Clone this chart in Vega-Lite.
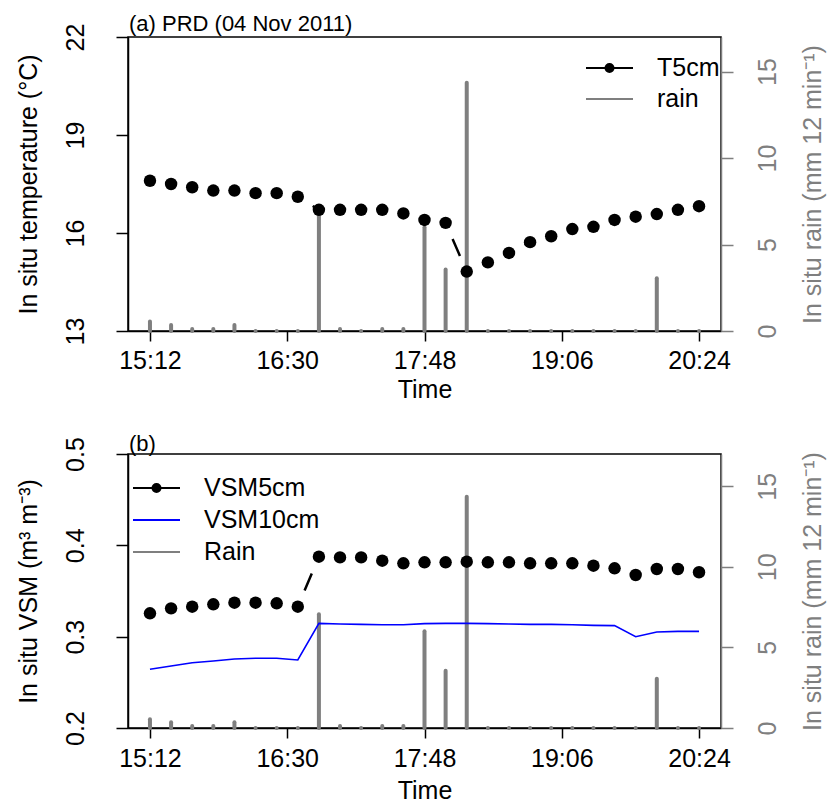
{
  "$schema": "https://vega.github.io/schema/vega-lite/v6.json",
  "autosize": {"type": "pad"},
  "padding": {"left": 15, "top": 12, "right": 2, "bottom": 2},
  "config": {
    "font": "Liberation Sans",
    "view": {"stroke": "black", "strokeWidth": 1.5},
    "axis": {"grid": false, "labelFontSize": 25, "titleFontSize": 25, "titleFontWeight": "normal", "labelColor": "black", "titleColor": "black", "domainColor": "black", "tickColor": "black", "domainWidth": 1.5, "tickWidth": 1.5, "labelFont": "Liberation Sans", "titleFont": "Liberation Sans"},
    "legend": {"labelFont": "Liberation Sans"}
  },
  "data": {
    "format": {"parse": {"time": "date"}},
    "values": [
      {"time": "2011-11-04T15:12", "T": 17.60, "rain": 0.55, "vsm5": 0.3256, "vsm10": 0.2643},
      {"time": "2011-11-04T15:24", "T": 17.50, "rain": 0.35, "vsm5": 0.3310, "vsm10": 0.2679},
      {"time": "2011-11-04T15:36", "T": 17.40, "rain": 0.12, "vsm5": 0.3328, "vsm10": 0.2715},
      {"time": "2011-11-04T15:48", "T": 17.30, "rain": 0.12, "vsm5": 0.3354, "vsm10": 0.2734},
      {"time": "2011-11-04T16:00", "T": 17.30, "rain": 0.35, "vsm5": 0.3372, "vsm10": 0.2755},
      {"time": "2011-11-04T16:12", "T": 17.22, "rain": 0, "vsm5": 0.3372, "vsm10": 0.2763},
      {"time": "2011-11-04T16:24", "T": 17.22, "rain": 0, "vsm5": 0.3365, "vsm10": 0.2763},
      {"time": "2011-11-04T16:36", "T": 17.11, "rain": 0, "vsm5": 0.3328, "vsm10": 0.2745},
      {"time": "2011-11-04T16:48", "T": 16.71, "rain": 7.05, "vsm5": 0.3876, "vsm10": 0.3146},
      {"time": "2011-11-04T17:00", "T": 16.71, "rain": 0.12, "vsm5": 0.3868, "vsm10": 0.3139},
      {"time": "2011-11-04T17:12", "T": 16.71, "rain": 0, "vsm5": 0.3868, "vsm10": 0.3135},
      {"time": "2011-11-04T17:24", "T": 16.71, "rain": 0.12, "vsm5": 0.3832, "vsm10": 0.3131},
      {"time": "2011-11-04T17:36", "T": 16.60, "rain": 0.12, "vsm5": 0.3803, "vsm10": 0.3131},
      {"time": "2011-11-04T17:48", "T": 16.40, "rain": 6.0, "vsm5": 0.3814, "vsm10": 0.3143},
      {"time": "2011-11-04T18:00", "T": 16.31, "rain": 3.55, "vsm5": 0.3814, "vsm10": 0.3146},
      {"time": "2011-11-04T18:12", "T": 14.82, "rain": 14.35, "vsm5": 0.3821, "vsm10": 0.3146},
      {"time": "2011-11-04T18:24", "T": 15.10, "rain": 0, "vsm5": 0.3814, "vsm10": 0.3143},
      {"time": "2011-11-04T18:36", "T": 15.39, "rain": 0, "vsm5": 0.3814, "vsm10": 0.3139},
      {"time": "2011-11-04T18:48", "T": 15.72, "rain": 0, "vsm5": 0.3803, "vsm10": 0.3135},
      {"time": "2011-11-04T19:00", "T": 15.90, "rain": 0, "vsm5": 0.3803, "vsm10": 0.3135},
      {"time": "2011-11-04T19:12", "T": 16.12, "rain": 0, "vsm5": 0.3803, "vsm10": 0.3131},
      {"time": "2011-11-04T19:24", "T": 16.19, "rain": 0, "vsm5": 0.3777, "vsm10": 0.3124},
      {"time": "2011-11-04T19:36", "T": 16.40, "rain": 0, "vsm5": 0.3748, "vsm10": 0.3121},
      {"time": "2011-11-04T19:48", "T": 16.50, "rain": 0, "vsm5": 0.3675, "vsm10": 0.3000},
      {"time": "2011-11-04T20:00", "T": 16.58, "rain": 3.05, "vsm5": 0.3741, "vsm10": 0.3051},
      {"time": "2011-11-04T20:12", "T": 16.71, "rain": 0, "vsm5": 0.3741, "vsm10": 0.3058},
      {"time": "2011-11-04T20:24", "T": 16.82, "rain": 0, "vsm5": 0.3705, "vsm10": 0.3058}
    ]
  },
  "bounds": "flush",
  "spacing": 123,
  "resolve": {"scale": {"color": "independent", "stroke": "independent", "shape": "independent"}, "legend": {"color": "independent", "stroke": "independent", "shape": "independent"}},
  "vconcat": [
    {
      "width": 593,
      "height": 294,
      "title": {"text": "(a) PRD (04 Nov 2011)", "anchor": "start", "frame": "group", "fontSize": 22, "fontWeight": "normal", "color": "black", "offset": -30, "baseline": "alphabetic", "dx": 1},
      "resolve": {"scale": {"y": "independent"}},
      "layer": [
        {
          "mark": {"type": "rule", "color": "#7f7f7f", "strokeWidth": 4, "strokeCap": "round"},
          "encoding": {
            "x": {"field": "time", "type": "temporal",
              "scale": {"domain": [{"year": 2011, "month": 11, "date": 4, "hours": 14, "minutes": 59, "seconds": 31}, {"year": 2011, "month": 11, "date": 4, "hours": 20, "minutes": 36, "seconds": 29}]},
              "axis": {"values": [{"year": 2011, "month": 11, "date": 4, "hours": 15, "minutes": 12}, {"year": 2011, "month": 11, "date": 4, "hours": 16, "minutes": 30}, {"year": 2011, "month": 11, "date": 4, "hours": 17, "minutes": 48}, {"year": 2011, "month": 11, "date": 4, "hours": 19, "minutes": 6}, {"year": 2011, "month": 11, "date": 4, "hours": 20, "minutes": 24}],
                "format": "%H:%M", "title": "Time", "tickSize": 10, "labelPadding": 7, "titlePadding": 4, "labelAngle": 0, "labelFlush": false, "labelOverlap": false}},
            "y": {"field": "rain", "type": "quantitative", "scale": {"domain": [0, 17], "nice": false, "zero": false},
              "axis": {"orient": "right", "values": [0, 5, 10, 15], "title": "In situ rain (mm 12 min⁻¹)", "labelAngle": 270, "labelAlign": "center", "labelBaseline": "top", "tickSize": 12, "labelPadding": 22, "titleAngle": 270, "titleBaseline": "top", "titlePadding": 20, "domainColor": "#7f7f7f", "tickColor": "#7f7f7f", "labelColor": "#7f7f7f", "titleColor": "#7f7f7f"}},
            "y2": {"datum": 0}
          }
        },
        {
          "transform": [
            {"window": [{"op": "lead", "field": "time", "as": "time2"}, {"op": "lead", "field": "T", "as": "T2"}], "sort": [{"field": "time"}]},
            {"filter": "datum.time2 != null"}
          ],
          "mark": {"type": "rule", "color": "black", "strokeWidth": 2.5, "strokeDash": [0, 17.5, 18.5, 1000]},
          "encoding": {
            "x": {"field": "time", "type": "temporal"},
            "x2": {"field": "time2"},
            "y": {"field": "T", "type": "quantitative", "scale": {"domain": [13, 22], "nice": false, "zero": false}, "axis": null},
            "y2": {"field": "T2"}
          }
        },
        {
          "mark": {"type": "point", "filled": true, "size": 155, "opacity": 1, "color": "black"},
          "encoding": {
            "x": {"field": "time", "type": "temporal"},
            "y": {"field": "T", "type": "quantitative", "scale": {"domain": [13, 22], "nice": false, "zero": false},
              "axis": {"orient": "left", "values": [13, 16, 19, 22], "title": "In situ temperature (°C)", "labelAngle": 270, "labelAlign": "center", "labelBaseline": "bottom", "tickSize": 12, "labelPadding": 28, "titlePadding": 22}}
          }
        },
        {
          "mark": {"type": "point", "filled": true, "opacity": 0, "strokeWidth": 2, "size": 100},
          "encoding": {
            "x": {"field": "time", "type": "temporal"},
            "y": {"field": "T", "type": "quantitative", "scale": {"domain": [13, 22], "nice": false, "zero": false}, "axis": null},
            "color": {"datum": "T5cm", "type": "nominal",
              "scale": {"domain": ["T5cm", "rain"], "range": ["black", "#7f7f7f"]},
              "legend": {"orient": "none", "legendX": 457, "legendY": 16, "title": null, "padding": 0, "symbolSize": 2209, "symbolOpacity": 1, "symbolStrokeWidth": 2, "clipHeight": 30, "rowPadding": 1, "labelFontSize": 25, "labelOffset": 23, "labelColor": "black", "symbolOffset": 0}},
            "stroke": {"datum": "T5cm", "type": "nominal",
              "scale": {"domain": ["T5cm", "rain"], "range": ["black", "#7f7f7f"]},
              "legend": {"orient": "none", "legendX": 457, "legendY": 16, "title": null, "padding": 0, "symbolSize": 2209, "symbolOpacity": 1, "symbolStrokeWidth": 2, "clipHeight": 30, "rowPadding": 1, "labelFontSize": 25, "labelOffset": 23, "labelColor": "black", "symbolOffset": 0}},
            "shape": {"datum": "T5cm", "type": "nominal",
              "scale": {"domain": ["T5cm", "rain"], "range": ["M-1,0H1M0.17,0A0.17,0.17,0,1,1,-0.17,0A0.17,0.17,0,1,1,0.17,0Z", "M-1,0H1"]},
              "legend": {"orient": "none", "legendX": 457, "legendY": 16, "title": null, "padding": 0, "symbolSize": 2209, "symbolOpacity": 1, "symbolStrokeWidth": 2, "clipHeight": 30, "rowPadding": 1, "labelFontSize": 25, "labelOffset": 23, "labelColor": "black", "symbolOffset": 0}}
          }
        }
      ]
    },
    {
      "width": 593,
      "height": 274,
      "title": {"text": "(b)", "anchor": "start", "frame": "group", "fontSize": 22, "fontWeight": "normal", "color": "black", "offset": -36, "baseline": "alphabetic", "dx": 1},
      "resolve": {"scale": {"y": "independent"}},
      "layer": [
        {
          "mark": {"type": "rule", "color": "#7f7f7f", "strokeWidth": 4, "strokeCap": "round"},
          "encoding": {
            "x": {"field": "time", "type": "temporal",
              "scale": {"domain": [{"year": 2011, "month": 11, "date": 4, "hours": 14, "minutes": 59, "seconds": 31}, {"year": 2011, "month": 11, "date": 4, "hours": 20, "minutes": 36, "seconds": 29}]},
              "axis": {"values": [{"year": 2011, "month": 11, "date": 4, "hours": 15, "minutes": 12}, {"year": 2011, "month": 11, "date": 4, "hours": 16, "minutes": 30}, {"year": 2011, "month": 11, "date": 4, "hours": 17, "minutes": 48}, {"year": 2011, "month": 11, "date": 4, "hours": 19, "minutes": 6}, {"year": 2011, "month": 11, "date": 4, "hours": 20, "minutes": 24}],
                "format": "%H:%M", "title": "Time", "tickSize": 10, "labelPadding": 8, "titlePadding": 7, "labelAngle": 0, "labelFlush": false, "labelOverlap": false}},
            "y": {"field": "rain", "type": "quantitative", "scale": {"domain": [0, 17], "nice": false, "zero": false},
              "axis": {"orient": "right", "values": [0, 5, 10, 15], "title": "In situ rain (mm 12 min⁻¹)", "labelAngle": 270, "labelAlign": "center", "labelBaseline": "top", "tickSize": 12, "labelPadding": 22, "titleAngle": 270, "titleBaseline": "top", "titlePadding": 20, "domainColor": "#7f7f7f", "tickColor": "#7f7f7f", "labelColor": "#7f7f7f", "titleColor": "#7f7f7f"}},
            "y2": {"datum": 0}
          }
        },
        {
          "mark": {"type": "line", "color": "#0000ff", "strokeWidth": 1.6},
          "encoding": {
            "x": {"field": "time", "type": "temporal"},
            "y": {"field": "vsm10", "type": "quantitative", "scale": {"domain": [0.2, 0.5], "nice": false, "zero": false}, "axis": null}
          }
        },
        {
          "transform": [
            {"window": [{"op": "lead", "field": "time", "as": "time2"}, {"op": "lead", "field": "vsm5", "as": "vsm5b"}], "sort": [{"field": "time"}]},
            {"filter": "datum.time2 != null"}
          ],
          "mark": {"type": "rule", "color": "black", "strokeWidth": 2.5, "strokeDash": [0, 17.5, 18.5, 1000]},
          "encoding": {
            "x": {"field": "time", "type": "temporal"},
            "x2": {"field": "time2"},
            "y": {"field": "vsm5", "type": "quantitative", "scale": {"domain": [0.2, 0.5], "nice": false, "zero": false}, "axis": null},
            "y2": {"field": "vsm5b"}
          }
        },
        {
          "mark": {"type": "point", "filled": true, "size": 155, "opacity": 1, "color": "black"},
          "encoding": {
            "x": {"field": "time", "type": "temporal"},
            "y": {"field": "vsm5", "type": "quantitative", "scale": {"domain": [0.2, 0.5], "nice": false, "zero": false},
              "axis": {"orient": "left", "values": [0.2, 0.3, 0.4, 0.5], "format": ".1f", "title": "In situ VSM (m³ m⁻³)", "labelAngle": 270, "labelAlign": "center", "labelBaseline": "bottom", "tickSize": 12, "labelPadding": 28, "titlePadding": 22}}
          }
        },
        {
          "mark": {"type": "point", "filled": true, "opacity": 0, "strokeWidth": 2, "size": 100},
          "encoding": {
            "x": {"field": "time", "type": "temporal"},
            "y": {"field": "vsm5", "type": "quantitative", "scale": {"domain": [0.2, 0.5], "nice": false, "zero": false}, "axis": null},
            "color": {"datum": "VSM5cm", "type": "nominal",
              "scale": {"domain": ["VSM5cm", "VSM10cm", "Rain"], "range": ["black", "#0000ff", "#7f7f7f"]},
              "legend": {"orient": "none", "legendX": 4, "legendY": 19, "title": null, "padding": 0, "symbolSize": 2209, "symbolOpacity": 1, "symbolStrokeWidth": 2, "clipHeight": 30, "rowPadding": 2, "labelFontSize": 25, "labelOffset": 23, "labelColor": "black", "symbolOffset": 0}},
            "stroke": {"datum": "VSM5cm", "type": "nominal",
              "scale": {"domain": ["VSM5cm", "VSM10cm", "Rain"], "range": ["black", "#0000ff", "#7f7f7f"]},
              "legend": {"orient": "none", "legendX": 4, "legendY": 19, "title": null, "padding": 0, "symbolSize": 2209, "symbolOpacity": 1, "symbolStrokeWidth": 2, "clipHeight": 30, "rowPadding": 2, "labelFontSize": 25, "labelOffset": 23, "labelColor": "black", "symbolOffset": 0}},
            "shape": {"datum": "VSM5cm", "type": "nominal",
              "scale": {"domain": ["VSM5cm", "VSM10cm", "Rain"], "range": ["M-1,0H1M0.17,0A0.17,0.17,0,1,1,-0.17,0A0.17,0.17,0,1,1,0.17,0Z", "M-1,0H1", "M-1,0H1"]},
              "legend": {"orient": "none", "legendX": 4, "legendY": 19, "title": null, "padding": 0, "symbolSize": 2209, "symbolOpacity": 1, "symbolStrokeWidth": 2, "clipHeight": 30, "rowPadding": 2, "labelFontSize": 25, "labelOffset": 23, "labelColor": "black", "symbolOffset": 0}}
          }
        }
      ]
    }
  ]
}
